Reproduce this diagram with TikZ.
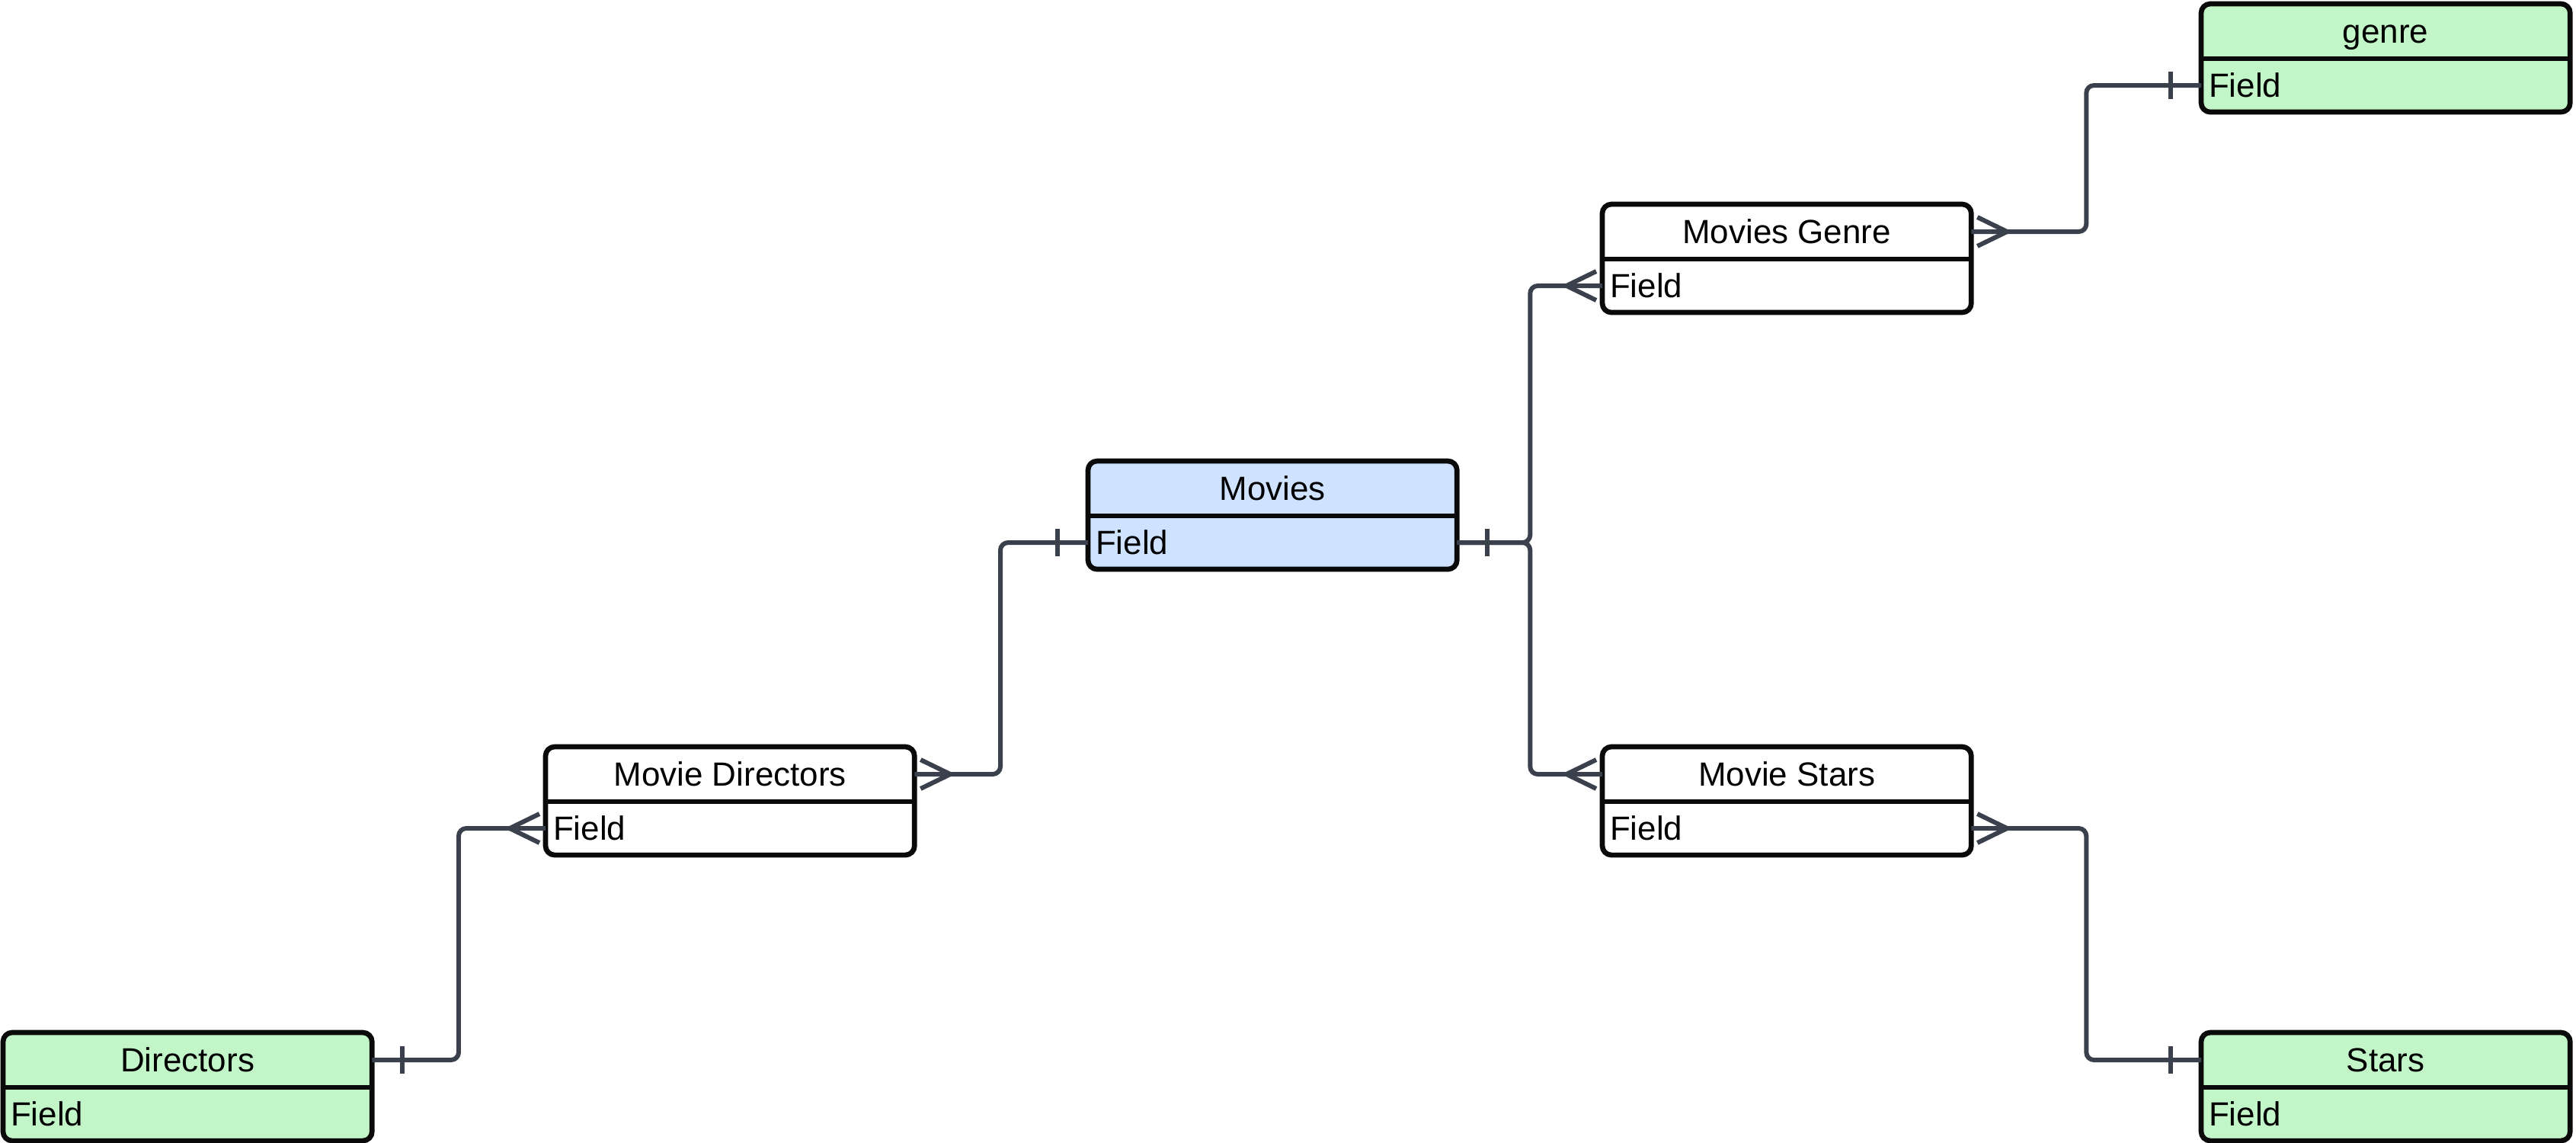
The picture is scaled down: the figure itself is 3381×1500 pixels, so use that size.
\documentclass[tikz,border=0pt]{standalone}
\usepackage{fontspec}
\setmainfont{Liberation Sans}
\usetikzlibrary{calc}
\definecolor{connc}{RGB}{58,64,76}
\definecolor{bluef}{RGB}{207,226,255}
\definecolor{greenf}{RGB}{194,245,199}
\definecolor{edgec}{RGB}{10,10,10}
\tikzset{
 entbox/.style={draw=edgec, line width=1.9pt, rounded corners=0.12cm, minimum width=4.84cm, minimum height=1.42cm, inner sep=0pt, outer sep=0pt, anchor=north west},
 hdr/.style={minimum width=4.84cm, minimum height=0.72cm, inner sep=0pt, outer sep=0pt, anchor=north west, text height=9pt, text depth=0pt, font=\fontsize{12.5}{15}\selectfont},
 fld/.style={text width=4.64cm, align=left, inner xsep=0.1cm, inner ysep=0pt, minimum height=0.70cm, outer sep=0pt, anchor=north west, text height=9pt, text depth=0pt, font=\fontsize{12.5}{15}\selectfont},
 divline/.style={draw=edgec, line width=1.8pt},
 conn/.style={draw=connc, line width=1.7pt, rounded corners=0.1cm},
 ermark/.style={draw=connc, line width=1.7pt}
}
\newcommand\erentity[5]{%
 \node[entbox, fill=#5] (#1) at (#2,#3) {};
 \node[hdr] (#1-h) at (#1.north west) {#4};
 \node[fld] (#1-f) at (#1-h.south west) {Field};
 \draw[divline] (#1-h.south west) -- (#1-h.south east);
}
\newcommand\crowR[1]{\draw[ermark] ($(#1)+(8,-19)$) -- ($(#1)+(47,0)$) -- ($(#1)+(8,19)$);}
\newcommand\crowL[1]{\draw[ermark] ($(#1)+(-8,-19)$) -- ($(#1)+(-47,0)$) -- ($(#1)+(-8,19)$);}
\newcommand\barR[1]{\draw[ermark] ($(#1)+(40,-18)$) -- ($(#1)+(40,18)$);}
\newcommand\barL[1]{\draw[ermark] ($(#1)+(-40,-18)$) -- ($(#1)+(-40,18)$);}
\begin{document}
\begin{tikzpicture}[x=0.01cm, y=-0.01cm]
\useasboundingbox[fill=white] (0,0) rectangle (3381,1500);
\erentity{genre}{2889}{5}{genre}{greenf}
\erentity{mg}{2103}{268}{Movies Genre}{white}
\erentity{movies}{1428}{605}{Movies}{bluef}
\erentity{md}{716}{980}{Movie Directors}{white}
\erentity{ms}{2103}{980}{Movie Stars}{white}
\erentity{dir}{4}{1355}{Directors}{greenf}
\erentity{stars}{2889}{1355}{Stars}{greenf}
\draw[conn] (movies-f.west) -- ++(-115,0) |- (md-h.east);
\draw[conn] (md-f.west) -- ++(-114,0) |- (dir-h.east);
\draw[conn] (movies-f.east) -- ++(96,0) |- (mg-f.west);
\draw[conn] (movies-f.east) -- ++(96,0) |- (ms-h.west);
\draw[conn] (mg-h.east) -- ++(151,0) |- (genre-f.west);
\draw[conn] (ms-f.east) -- ++(151,0) |- (stars-h.west);
\barL{movies-f.west}
\crowR{md-h.east}
\crowL{md-f.west}
\barR{dir-h.east}
\barR{movies-f.east}
\crowL{mg-f.west}
\crowL{ms-h.west}
\crowR{mg-h.east}
\barL{genre-f.west}
\crowR{ms-f.east}
\barL{stars-h.west}
\end{tikzpicture}
\end{document}
